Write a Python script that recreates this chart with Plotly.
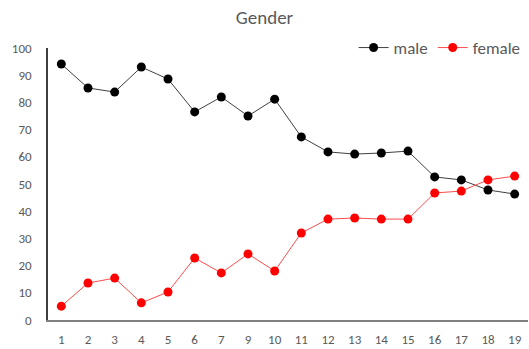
import plotly.graph_objects as go

# Survey waves (wave 8 is absent from the data)
waves = ["1", "2", "3", "4", "5", "6", "7", "9", "10", "11", "12",
         "13", "14", "15", "16", "17", "18", "19"]

male = [94.1, 85.3, 83.8, 93.0, 88.6, 76.5, 82.0, 75.0, 81.2, 67.3, 61.8,
        61.0, 61.4, 62.1, 52.6, 51.5, 47.8, 46.3]
female = [5.1, 13.6, 15.4, 6.3, 10.3, 22.8, 17.3, 24.3, 18.0, 32.0, 37.1,
          37.5, 37.1, 37.1, 46.7, 47.4, 51.5, 52.9]

y_ticks = [0, 10, 20, 30, 40, 50, 60, 70, 80, 90, 100]

FONT = "Calibri, Carlito, Lato, Liberation Sans, sans-serif"
TEXT_GRAY = "#595959"

fig = go.Figure()
fig.add_trace(go.Scatter(
    x=waves, y=male, name="male", mode="lines+markers",
    line=dict(color="#404040", width=1),
    marker=dict(color="#000000", size=9),
))
fig.add_trace(go.Scatter(
    x=waves, y=female, name="female", mode="lines+markers",
    line=dict(color="#ff4d4d", width=1),
    marker=dict(color="#ff0000", size=9),
))

fig.update_layout(
    width=529, height=349,
    margin=dict(l=48, r=1, t=48, b=29),
    paper_bgcolor="white", plot_bgcolor="white",
    font=dict(family=FONT, color=TEXT_GRAY, size=13),
    title=dict(text="Gender", x=0.5, xanchor="center", y=0.95, yanchor="middle",
               font=dict(family=FONT, size=19, color=TEXT_GRAY)),
    showlegend=True,
    legend=dict(orientation="h", x=0.995, xanchor="right", y=1.0, yanchor="middle",
                font=dict(family=FONT, size=17, color=TEXT_GRAY),
                bgcolor="rgba(0,0,0,0)", itemwidth=30, tracegroupgap=0),
    xaxis=dict(type="category", range=[-0.5, 17.5], showgrid=False,
               showline=True, linecolor="#808080", linewidth=1.5,
               ticks="", ticklabelstandoff=7, zeroline=False,
               tickfont=dict(family=FONT, size=13, color=TEXT_GRAY)),
    yaxis=dict(range=[0, 100], tickvals=y_ticks, showgrid=False,
               showline=True, linecolor="#404040", linewidth=1.5,
               ticks="", ticklabelstandoff=12, zeroline=False,
               tickfont=dict(family=FONT, size=13, color=TEXT_GRAY)),
)

fig.write_html("out.html")
